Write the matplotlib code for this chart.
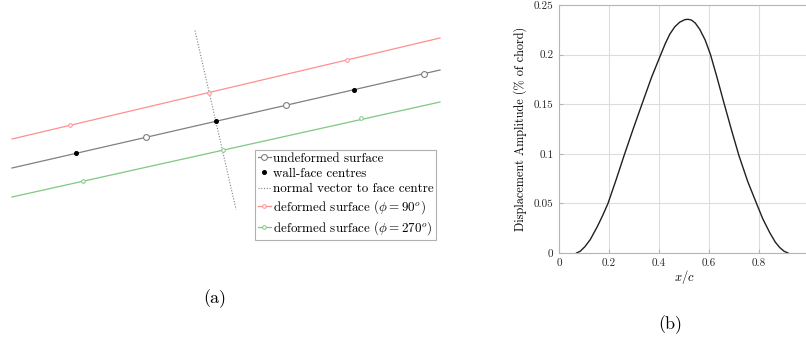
import matplotlib.pyplot as plt
import numpy as np

plt.rcParams['font.family'] = 'cmr10'
plt.rcParams['mathtext.fontset'] = 'cm'
plt.rcParams['axes.formatter.use_mathtext'] = True

W, H = 806, 346

# %% (a) surface sketch, coordinates in figure pixels (y pointing down)
surf_x        = [12, 440]
undeformed_y  = [168, 70]
deformed90_y  = [139, 38]
deformed270_y = [197, 102]

vert_x   = [146, 286, 424]
vert_y   = [137, 105, 73.5]
centre_x = [76, 216, 354]
centre_y = [153, 121, 89.5]
d90_x    = [70, 209, 347]
d90_y    = [125, 92.5, 60]
d270_x   = [83, 222.5, 361]
d270_y   = [181, 149.5, 118]
normal_x = [195, 236]
normal_y = [30.5, 209.5]

# %% (b) displacement amplitude along the chord
xc  = [0.07, 0.085, 0.103, 0.125, 0.153, 0.175, 0.196, 0.23, 0.26, 0.298,
       0.336, 0.37, 0.407, 0.425, 0.443, 0.463, 0.483, 0.503, 0.516, 0.53,
       0.545, 0.563, 0.585, 0.606, 0.632, 0.659, 0.69, 0.72, 0.755, 0.79,
       0.815, 0.843, 0.865, 0.883, 0.9, 0.916]
amp = [0.0, 0.0018, 0.0062, 0.0135, 0.0265, 0.038, 0.05, 0.075, 0.098, 0.126,
       0.153, 0.177, 0.2, 0.211, 0.2205, 0.228, 0.2327, 0.2352, 0.2356, 0.2348,
       0.2318, 0.2255, 0.2145, 0.2, 0.177, 0.152, 0.124, 0.098, 0.072, 0.05,
       0.0345, 0.0205, 0.011, 0.0055, 0.0018, 0.0]

xticks = [0, 0.2, 0.4, 0.6, 0.8, 1.0]
yticks = [0, 0.05, 0.1, 0.15, 0.2, 0.25]

grey  = '#808080'
red   = '#ff8f8f'
green = '#80c880'

fig = plt.figure(figsize=(W/100, H/100), dpi=100)

# Panel (a)
ax1 = fig.add_axes([0, 0, 445/W, 1])
ax1.set_xlim(0, 445)
ax1.set_ylim(H, 0)
ax1.axis('off')

ax1.plot(surf_x, deformed90_y, color=red, lw=0.9)
ax1.plot(surf_x, undeformed_y, color=grey, lw=0.9)
ax1.plot(surf_x, deformed270_y, color=green, lw=0.9)
ax1.plot(normal_x, normal_y, ls=(0, (1, 1.5)), color=grey, lw=0.8)

ax1.plot(d90_x, d90_y, 'o', ms=2.6, mfc='white', mec=red, mew=0.7)
ax1.plot(d270_x, d270_y, 'o', ms=2.6, mfc='white', mec=green, mew=0.7)
ax1.plot(vert_x, vert_y, 'o', ms=4.2, mfc='white', mec=grey, mew=0.8)
ax1.plot(centre_x, centre_y, 'o', ms=2.6, color='black')

h_und = plt.Line2D([], [], color=grey, lw=0.9, marker='o', ms=4.2, mfc='white', mec=grey, mew=0.8)
h_cen = plt.Line2D([], [], ls='none', marker='o', ms=2.6, color='black')
h_nor = plt.Line2D([], [], color=grey, lw=0.8, ls=(0, (1, 1.5)))
h_d90 = plt.Line2D([], [], color=red, lw=0.9, marker='o', ms=2.6, mfc='white', mec=red, mew=0.7)
h_d27 = plt.Line2D([], [], color=green, lw=0.9, marker='o', ms=2.6, mfc='white', mec=green, mew=0.7)
leg = ax1.legend([h_und, h_cen, h_nor, h_d90, h_d27],
                 ['undeformed surface', 'wall-face centres', 'normal vector to face centre',
                  r'deformed surface ($\phi = 90^o$)', r'deformed surface ($\phi = 270^o$)'],
                 loc='upper left', bbox_to_anchor=(255/W, 1 - 150/H), bbox_transform=fig.transFigure,
                 borderaxespad=0, fontsize=9.4, handlelength=1.0, handletextpad=0.15,
                 borderpad=0.2, labelspacing=0.24, fancybox=False, framealpha=1)
leg.get_frame().set_edgecolor('#b0b0b0')
leg.get_frame().set_linewidth(0.8)

fig.text(215/W, 1 - 299/H, '(a)', ha='center', va='center', fontsize=13)

# Panel (b)
ax2 = fig.add_axes([559/W, 1 - 253/H, 250/W, 248/H])
ax2.plot(xc, amp, color='#202020', lw=1.0)
ax2.set_xlim(0, 1)
ax2.set_ylim(0, 0.25)
ax2.set_xticks(xticks)
ax2.set_yticks(yticks)
# last x label falls outside the figure
ax2.set_xticklabels(['%g' % t for t in xticks[:-1]] + [''])
ax2.set_yticklabels(['%g' % t for t in yticks])
ax2.grid(True, color='#dddddd', lw=0.8)
ax2.set_axisbelow(True)
for s in ax2.spines.values():
    s.set_color('#b5b5b5')
    s.set_linewidth(0.8)
ax2.tick_params(direction='in', length=3, color='#b5b5b5', labelsize=8, labelcolor='#262626', pad=4)
ax2.set_xlabel(r'$x/c$', fontsize=9, labelpad=0)
ax2.set_ylabel('Displacement Amplitude (% of chord)', fontsize=8.8, labelpad=5)

fig.text(670/W, 1 - 325/H, '(b)', ha='center', va='center', fontsize=13)

fig.savefig('out.png', dpi=100)
